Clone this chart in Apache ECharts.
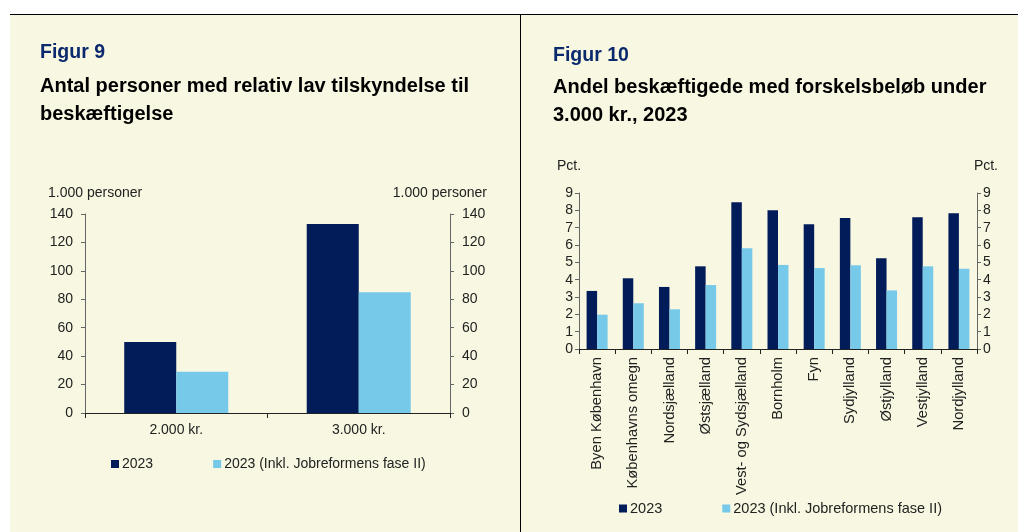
<!DOCTYPE html>
<html>
<head>
<meta charset="utf-8">
<script src="https://cdn.jsdelivr.net/npm/echarts@6/dist/echarts.min.js"></script>
<style>
  html, body { margin: 0; padding: 0; background: #fff; }
  #chart { width: 1018px; height: 532px; }
</style>
</head>
<body>
<div id="chart"></div>
<script>
// Figur 9 og Figur 10 - to søjlediagrammer side om side

const fig9Categories = ['2.000 kr.', '3.000 kr.'];
const fig9Base = [50, 133];
const fig9Reform = [29, 85];

const fig10Categories = [
  'Byen København', 'Københavns omegn', 'Nordsjælland', 'Østsjælland',
  'Vest- og Sydsjælland', 'Bornholm', 'Fyn', 'Sydjylland',
  'Østjylland', 'Vestjylland', 'Nordjylland'
];
const fig10Base = [3.35, 4.08, 3.58, 4.77, 8.46, 8.0, 7.19, 7.56, 5.23, 7.6, 7.83];
const fig10Reform = [1.98, 2.64, 2.29, 3.69, 5.81, 4.85, 4.67, 4.83, 3.38, 4.77, 4.63];

const seriesNames = ['2023', '2023 (Inkl. Jobreformens fase II)'];

const DARK = '#021c5a';
const LIGHT = '#76c9e8';
const BG = '#f8f7e1';
const FONT = 'Liberation Sans, Arial, sans-serif';

const chart = echarts.init(document.getElementById('chart'));

function yAxis(gridIndex, pos, max, interval, margin) {
  return {
    type: 'value',
    gridIndex: gridIndex,
    position: pos,
    min: 0,
    max: max,
    interval: interval,
    splitLine: { show: false },
    axisLine: { show: true, lineStyle: { color: '#666', width: 1 } },
    axisTick: { show: true, length: 4, lineStyle: { color: '#666' } },
    axisLabel: { color: '#222', fontSize: 14, fontFamily: FONT, margin: margin }
  };
}

function xAxis(gridIndex, cats, rotate, margin, size) {
  return {
    type: 'category',
    gridIndex: gridIndex,
    data: cats,
    axisLine: { lineStyle: { color: '#222', width: 1 } },
    axisTick: { show: true, length: 5, lineStyle: { color: '#222' } },
    axisLabel: { color: '#222', fontSize: size, fontFamily: FONT, rotate: rotate, margin: margin, interval: 0 }
  };
}

function text(x, y, str, opts) {
  return {
    type: 'text',
    x: x,
    y: y,
    style: Object.assign({
      text: str,
      fill: '#222',
      font: '14px ' + FONT,
      textVerticalAlign: 'middle'
    }, opts || {})
  };
}

const option = {
  backgroundColor: '#fff',
  animation: false,
  textStyle: { fontFamily: FONT },
  graphic: [
    { type: 'rect', shape: { x: 10, y: 14, width: 1008, height: 518 }, style: { fill: BG }, z: -10 },
    { type: 'line', shape: { x1: 10, y1: 14.5, x2: 1018, y2: 14.5 }, style: { stroke: '#000', lineWidth: 1 } },
    { type: 'line', shape: { x1: 520.5, y1: 14, x2: 520.5, y2: 532 }, style: { stroke: '#000', lineWidth: 1 } },
    text(40, 53, 'Figur 9', { fill: '#0b2a6e', font: 'bold 19.5px ' + FONT }),
    text(40, 86, 'Antal personer med relativ lav tilskyndelse til', { fill: '#000', font: 'bold 20px ' + FONT }),
    text(40, 114, 'beskæftigelse', { fill: '#000', font: 'bold 20px ' + FONT }),
    text(553, 56, 'Figur 10', { fill: '#0b2a6e', font: 'bold 19.5px ' + FONT }),
    text(553, 87, 'Andel beskæftigede med forskelsbeløb under', { fill: '#000', font: 'bold 20px ' + FONT }),
    text(553, 115, '3.000 kr., 2023', { fill: '#000', font: 'bold 20px ' + FONT }),
    text(48, 193, '1.000 personer'),
    text(487, 193, '1.000 personer', { textAlign: 'right' }),
    text(557, 166, 'Pct.'),
    text(998, 166, 'Pct.', { textAlign: 'right' })
  ],
  legend: [
    {
      left: 106, top: 452,
      itemWidth: 8, itemHeight: 8, itemGap: 60,
      icon: 'rect',
      textStyle: { color: '#222', fontSize: 14, fontFamily: FONT, padding: [0, 0, 0, -2] },
      data: seriesNames
    },
    {
      left: 614, top: 496,
      itemWidth: 8, itemHeight: 8, itemGap: 60,
      icon: 'rect',
      textStyle: { color: '#222', fontSize: 14.5, fontFamily: FONT, padding: [0, 0, 0, -2] },
      data: seriesNames
    }
  ],
  grid: [
    { left: 85, right: 568, top: 214, bottom: 119, containLabel: false },
    { left: 579, right: 41, top: 193, bottom: 183, containLabel: false }
  ],
  xAxis: [
    xAxis(0, fig9Categories, 0, 10, 14),
    xAxis(1, fig10Categories, 90, 8, 14.7)
  ],
  yAxis: [
    yAxis(0, 'left', 140, 20, 12),
    yAxis(0, 'right', 140, 20, 12),
    yAxis(1, 'left', 9, 1, 6),
    yAxis(1, 'right', 9, 1, 6)
  ],
  series: [
    {
      name: seriesNames[0], type: 'bar', xAxisIndex: 0, yAxisIndex: 0,
      data: fig9Base, itemStyle: { color: DARK }, barGap: '0%', barCategoryGap: '43%'
    },
    {
      name: seriesNames[1], type: 'bar', xAxisIndex: 0, yAxisIndex: 0,
      data: fig9Reform, itemStyle: { color: LIGHT }, barGap: '0%', barCategoryGap: '43%'
    },
    {
      name: seriesNames[0], type: 'bar', xAxisIndex: 1, yAxisIndex: 2,
      data: fig10Base, itemStyle: { color: DARK }, barGap: '0%', barCategoryGap: '42%'
    },
    {
      name: seriesNames[1], type: 'bar', xAxisIndex: 1, yAxisIndex: 2,
      data: fig10Reform, itemStyle: { color: LIGHT }, barGap: '0%', barCategoryGap: '42%'
    }
  ]
};

chart.setOption(option);
</script>
</body>
</html>
